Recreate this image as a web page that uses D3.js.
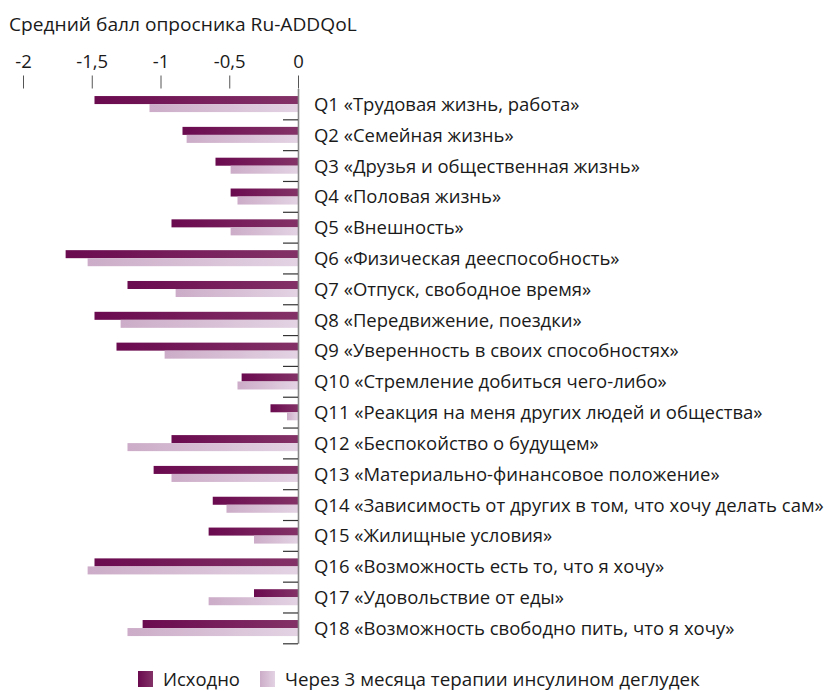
<!DOCTYPE html>
<html><head><meta charset="utf-8">
<script src="https://cdn.jsdelivr.net/npm/d3@7"></script>
<style>
html,body{margin:0;padding:0;background:#fff;}
svg{display:block;font-family:"Open Sans","Noto Sans",sans-serif;}
</style></head>
<body>
<svg id="chart" width="829" height="691"></svg>
<script>
const title = "Средний балл опросника Ru-ADDQoL";
const categories = [
  "Q1 «Трудовая жизнь, работа»",
  "Q2 «Семейная жизнь»",
  "Q3 «Друзья и общественная жизнь»",
  "Q4 «Половая жизнь»",
  "Q5 «Внешность»",
  "Q6 «Физическая дееспособность»",
  "Q7 «Отпуск, свободное время»",
  "Q8 «Передвижение, поездки»",
  "Q9 «Уверенность в своих способностях»",
  "Q10 «Стремление добиться чего-либо»",
  "Q11 «Реакция на меня других людей и общества»",
  "Q12 «Беспокойство о будущем»",
  "Q13 «Материально-финансовое положение»",
  "Q14 «Зависимость от других в том, что хочу делать сам»",
  "Q15 «Жилищные условия»",
  "Q16 «Возможность есть то, что я хочу»",
  "Q17 «Удовольствие от еды»",
  "Q18 «Возможность свободно пить, что я хочу»"
];
const seriesNames = ["Исходно", "Через 3 месяца терапии инсулином деглудек"];
const baselineValues = [-1.48,-0.84,-0.60,-0.49,-0.92,-1.69,-1.24,-1.48,-1.32,-0.41,-0.20,-0.92,-1.05,-0.62,-0.65,-1.48,-0.32,-1.13];
const after3mValues  = [-1.08,-0.81,-0.49,-0.44,-0.49,-1.53,-0.89,-1.29,-0.97,-0.44,-0.08,-1.24,-0.92,-0.52,-0.32,-1.53,-0.65,-1.24];
const xTickValues = [-2,-1.5,-1,-0.5,0];

const svg = d3.select("#chart");
const defs = svg.append("defs");
function grad(id, c0, c1){
  const g = defs.append("linearGradient").attr("id", id).attr("x1","0").attr("x2","1").attr("y1","0").attr("y2","0");
  g.append("stop").attr("offset","0").attr("stop-color",c0);
  g.append("stop").attr("offset","1").attr("stop-color",c1);
}
grad("gDark", "#6a0a4f", "#833267");
grad("gLight", "#ccacc8", "#e3d3e3");

const x = d3.scaleLinear().domain([-2, 0]).range([23, 298]);
const yTop = 88.5, yBottom = 643.3;
const y = d3.scaleBand().domain(categories).range([yTop, yBottom]).padding(0);
const yIdx = d3.scaleLinear().domain([0, categories.length]).range([yTop, yBottom]);
const bw = y.bandwidth();
const sub = d3.scaleBand().domain([0,1]).range([bw*0.245, bw*0.765]).padding(0);

// title
const tTitle = svg.append("text").attr("x", 0).attr("y", 0)
  .attr("font-size", 18).attr("fill", "#1a1a1a").text(title);

// top axis
const gx = svg.append("g").attr("transform", `translate(0,${yTop})`)
  .call(d3.axisTop(x).tickValues(xTickValues).tickSize(13).tickPadding(8)
    .tickFormat(d => String(d).replace(".", ",")));
gx.select(".domain").remove();
gx.selectAll(".tick line").attr("stroke", "#555").attr("stroke-width", 1);
gx.selectAll(".tick text").attr("font-size", 18).attr("fill", "#1a1a1a")
  .attr("font-family", "Open Sans, Noto Sans, sans-serif");

// bars
const rows = categories.map((c, i) => ({c, v: [baselineValues[i], after3mValues[i]]}));
const gb = svg.append("g");
rows.forEach(r => {
  r.v.forEach((v, k) => {
    gb.append("rect")
      .attr("x", x(v)).attr("width", x(0) - x(v))
      .attr("y", y(r.c) + sub(k)).attr("height", sub.bandwidth())
      .attr("fill", k === 0 ? "url(#gDark)" : "url(#gLight)");
  });
});

// left category axis at zero
const gy = svg.append("g").attr("transform", `translate(${x(0)},0)`)
  .call(d3.axisLeft(yIdx).tickValues(d3.range(1, categories.length + 1))
    .tickSize(15).tickSizeOuter(0).tickFormat(""));
gy.select(".domain").attr("stroke", "#888").attr("stroke-width", 1.6);
gy.selectAll(".tick line").attr("stroke", "#333").attr("stroke-width", 1.2);

// labels
const gl = svg.append("g");
const labels = gl.selectAll("g").data(categories).join("g")
  .attr("class", "lab");
labels.append("text").attr("x", 0).attr("y", 0)
  .attr("font-size", 18).attr("fill", "#1a1a1a").text(d => d);

// horizontal compression to mimic condensed typeface
const ref = labels.filter((d, i) => i === 13).select("text").node().getComputedTextLength();
const sx = 510 / ref;
labels.attr("transform", d => `translate(314,${y(d) + bw/2 + 7}) scale(${sx},1)`);

const tw = tTitle.node().getComputedTextLength();
tTitle.attr("transform", `translate(9,31) scale(${348/tw},1)`);

gx.selectAll(".tick text").attr("transform", `scale(${sx},1)`);

// legend
const legend = svg.append("g");
const items = [
  {name: seriesNames[0], fill: "url(#gDark)", sq: 138, tx: 163, w: 77},
  {name: seriesNames[1], fill: "url(#gLight)", sq: 260, tx: 285, w: 415}
];
items.forEach(it => {
  legend.append("rect").attr("x", it.sq).attr("y", 671).attr("width", 15).attr("height", 16).attr("fill", it.fill);
  const t = legend.append("text").attr("x", 0).attr("y", 0).attr("font-size", 17.5).attr("fill", "#1a1a1a").text(it.name);
  const w = t.node().getComputedTextLength();
  t.attr("transform", `translate(${it.tx},685.5) scale(${it.w / w},1)`);
});
</script>
</body></html>
